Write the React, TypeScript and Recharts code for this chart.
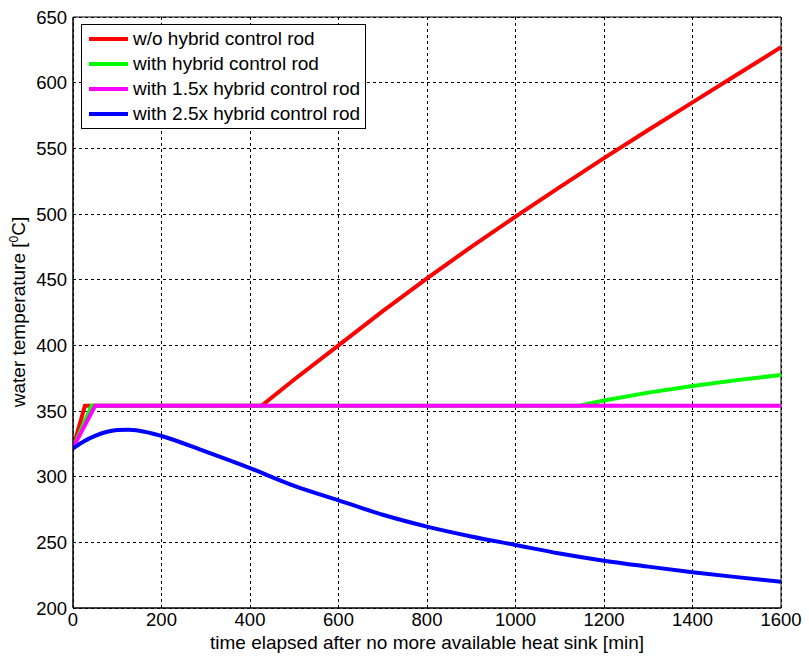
import React from 'react';
import {
  LineChart,
  Line,
  XAxis,
  YAxis,
  CartesianGrid,
  Legend,
  ReferenceArea
} from 'recharts';

// time [min] / water temperature [C]
const noRodTime = [0, 27, 426, 500, 600, 700, 800, 900, 1000, 1100, 1200, 1300, 1400, 1500, 1600];
const noRodTemp = [322, 354, 354, 374, 400, 426, 451, 475, 498, 520.5, 542.5, 564, 585, 606, 627];

const rodTime = [0, 42, 1144, 1200, 1300, 1400, 1500, 1600];
const rodTemp = [322, 354, 354, 358, 364, 369, 373.5, 377.5];

const rod15Time = [0, 50, 1600];
const rod15Temp = [322, 354, 354];

const rod25Time = [0, 25, 50, 75, 100, 125, 150, 200, 300, 400, 500, 600, 700, 800, 900, 1000, 1100, 1200, 1300, 1400, 1500, 1600];
const rod25Temp = [321.5, 327, 331, 334, 335.5, 335.8, 335, 331, 319, 306.5, 293, 282, 271, 262, 254.5, 248, 241.5, 236, 231.5, 227.3, 223.5, 220];

const xTicks = [0, 200, 400, 600, 800, 1000, 1200, 1400, 1600];
const yTicks = [200, 250, 300, 350, 400, 450, 500, 550, 600, 650];

const seriesNames = [
  'w/o hybrid control rod',
  'with hybrid control rod',
  'with 1.5x hybrid control rod',
  'with 2.5x hybrid control rod'
];
const seriesColors = ['#ff0000', '#00ff00', '#ff00ff', '#0000ff'];

const toPoints = (times: number[], temps: number[]) =>
  times.map((t, i) => ({ t, v: temps[i] }));

const series = [
  toPoints(noRodTime, noRodTemp),
  toPoints(rodTime, rodTemp),
  toPoints(rod15Time, rod15Temp),
  toPoints(rod25Time, rod25Temp)
];

const FONT = "Arial, 'Liberation Sans', sans-serif";

const LegendBox = () => (
  <div
    style={{
      border: '1px solid #000',
      background: '#fff',
      width: 285,
      boxSizing: 'border-box',
      paddingTop: 1,
      paddingBottom: 2,
      fontFamily: FONT,
      fontSize: 19,
      color: '#000'
    }}
  >
    {seriesNames.map((name, i) => (
      <div key={name} style={{ display: 'flex', alignItems: 'center', height: 25 }}>
        <svg width={39} height={6} style={{ marginLeft: 7, marginRight: 5, flexShrink: 0 }}>
          <line x1={0} y1={3} x2={39} y2={3} stroke={seriesColors[i]} strokeWidth={4} />
        </svg>
        <span style={{ whiteSpace: 'nowrap' }}>{name}</span>
      </div>
    ))}
  </div>
);

export default function App() {
  return (
    <div style={{ position: 'absolute', left: 0, top: 0, width: 809, height: 661, background: '#fff' }}>
      <LineChart
        width={809}
        height={661}
        margin={{ top: 17, right: 28, bottom: 0, left: 0 }}
        style={{ fontFamily: FONT }}
      >
        <CartesianGrid stroke="#000" strokeDasharray="3 3" strokeWidth={1} shapeRendering="crispEdges" />
        <XAxis
          dataKey="t"
          type="number"
          domain={[0, 1600]}
          ticks={xTicks}
          allowDataOverflow
          height={53}
          axisLine={{ stroke: '#000' }}
          tickLine={false}
          tickSize={0}
          tickMargin={5}
          tick={{ fill: '#000', fontSize: 18.5 }}
          label={{
            content: () => (
              <text x={427} y={649} textAnchor="middle" fill="#000" fontSize={19} fontFamily={FONT}>
                time elapsed after no more available heat sink [min]
              </text>
            )
          }}
        />
        <YAxis
          dataKey="v"
          type="number"
          domain={[200, 650]}
          ticks={yTicks}
          allowDataOverflow
          width={73}
          axisLine={{ stroke: '#000' }}
          tickLine={false}
          tickSize={0}
          tickMargin={6}
          tick={{ fill: '#000', fontSize: 18.5 }}
          label={{
            content: () => (
              <text
                x={25}
                y={312}
                transform="rotate(-90 25 312)"
                textAnchor="middle"
                fill="#000"
                fontSize={19}
                fontFamily={FONT}
              >
                water temperature [
                <tspan dy={-7} fontSize={12}>0</tspan>
                <tspan dy={7}>C]</tspan>
              </text>
            )
          }}
        />
        {series.map((pts, i) => (
          <Line
            key={seriesNames[i]}
            data={pts}
            dataKey="v"
            name={seriesNames[i]}
            type={i === 3 ? 'monotone' : 'linear'}
            stroke={seriesColors[i]}
            strokeWidth={4}
            dot={false}
            activeDot={false}
            isAnimationActive={false}
          />
        ))}
        <ReferenceArea x1={0} x2={1600} y1={200} y2={650} fill="none" fillOpacity={0} stroke="#000" strokeWidth={1} />
        <Legend
          layout="horizontal"
          verticalAlign="middle"
          align="center"
          content={() => <LegendBox />}
          wrapperStyle={{ left: 81, top: 24, width: 285 }}
        />
      </LineChart>
    </div>
  );
}
